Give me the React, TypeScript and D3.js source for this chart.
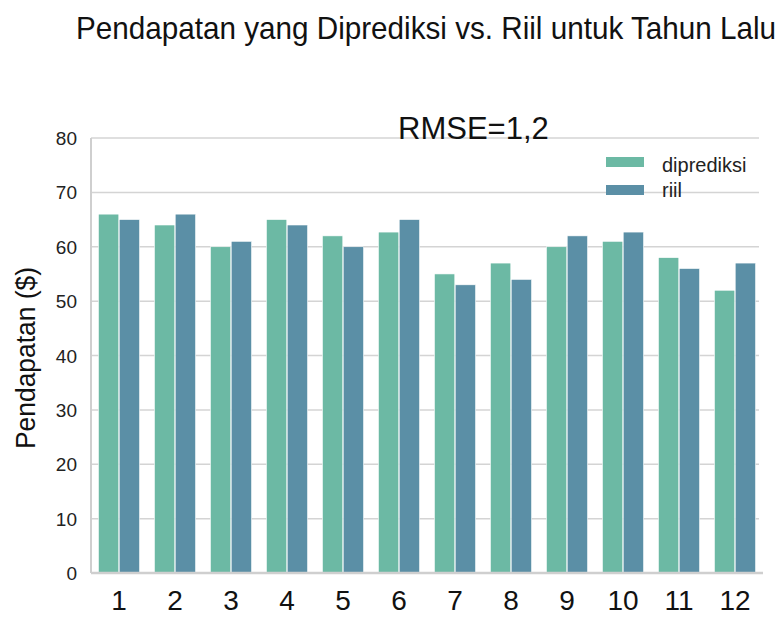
import React from 'react'
import * as d3 from 'd3'

// months and the two revenue series
const months = ['1', '2', '3', '4', '5', '6', '7', '8', '9', '10', '11', '12']
const predicted = [66, 64, 60, 65, 62, 62.7, 55, 57, 60, 61, 58, 52]
const actual = [65, 66, 61, 64, 60, 65, 53, 54, 62, 62.7, 56, 57]
const seriesNames = ['diprediksi', 'riil']
const yTicks = [0, 10, 20, 30, 40, 50, 60, 70, 80]

const colors = ['#6cb9a4', '#5b8fa6']
const W = 782
const H = 638
const margin = { top: 138, right: 19, bottom: 65, left: 91 }
const font = '"Liberation Sans", Arial, sans-serif'

const App: React.FC = () => {
    const x = d3
        .scaleBand<string>()
        .domain(months)
        .range([margin.left, W - margin.right])
        .paddingInner(0.25)
        .paddingOuter(0.125)
    const inner = d3
        .scaleBand<string>()
        .domain(seriesNames)
        .range([0, x.bandwidth()])
        .padding(0.02)
    const y = d3
        .scaleLinear()
        .domain([0, 80])
        .range([H - margin.bottom, margin.top])

    const series = [predicted, actual]

    return (
        <svg
            width={W}
            height={H}
            style={{ position: 'absolute', left: 0, top: 0, background: '#fff' }}
            fontFamily={font}
        >
            {/* title, condensed like the original */}
            <text
                transform="translate(76,39) scale(1,1.18)"
                fontSize={27}
                fill="#111"
                textLength={700}
                lengthAdjust="spacingAndGlyphs"
            >
                Pendapatan yang Diprediksi vs. Riil untuk Tahun Lalu
            </text>

            {/* grid */}
            {yTicks.slice(1).map((t) => (
                <line
                    key={t}
                    x1={margin.left}
                    x2={W - margin.right - 4}
                    y1={y(t)}
                    y2={y(t)}
                    stroke="#d4d4d4"
                    strokeWidth={1.5}
                />
            ))}

            {/* bars */}
            {months.map((m, i) => (
                <g key={m} transform={`translate(${x(m)},0)`}>
                    {series.map((s, j) => (
                        <rect
                            key={j}
                            x={inner(seriesNames[j])}
                            y={y(s[i])}
                            width={inner.bandwidth()}
                            height={y(0) - y(s[i])}
                            fill={colors[j]}
                            stroke="#fff"
                            strokeWidth={0.6}
                        />
                    ))}
                </g>
            ))}

            {/* spines */}
            <line x1={margin.left} x2={margin.left} y1={y(80)} y2={y(0)} stroke="#cfcfcf" strokeWidth={2} />
            <line x1={margin.left} x2={W - margin.right} y1={y(0)} y2={y(0)} stroke="#cfcfcf" strokeWidth={2.5} />

            {/* y ticks */}
            {yTicks.map((t) => (
                <text key={t} x={77} y={y(t) + 7} fontSize={19} textAnchor="end" fill="#222">
                    {t}
                </text>
            ))}

            {/* x ticks */}
            {months.map((m) => (
                <text key={m} x={x(m)! + x.bandwidth() / 2} y={610} fontSize={28} textAnchor="middle" fill="#111">
                    {m}
                </text>
            ))}

            {/* y label */}
            <text
                transform="translate(35,358) rotate(-90)"
                fontSize={27}
                textAnchor="middle"
                fill="#111"
                textLength={182}
                lengthAdjust="spacingAndGlyphs"
            >
                Pendapatan ($)
            </text>

            {/* RMSE annotation */}
            <text x={398} y={139} fontSize={31} fill="#111">
                RMSE=1,2
            </text>

            {/* legend */}
            {seriesNames.map((n, j) => (
                <g key={n}>
                    <rect x={606} y={157 + j * 28} width={38} height={10} fill={colors[j]} />
                    <text x={662} y={172 + j * 25} fontSize={20} fill="#222">
                        {n}
                    </text>
                </g>
            ))}
        </svg>
    )
}

export default App
